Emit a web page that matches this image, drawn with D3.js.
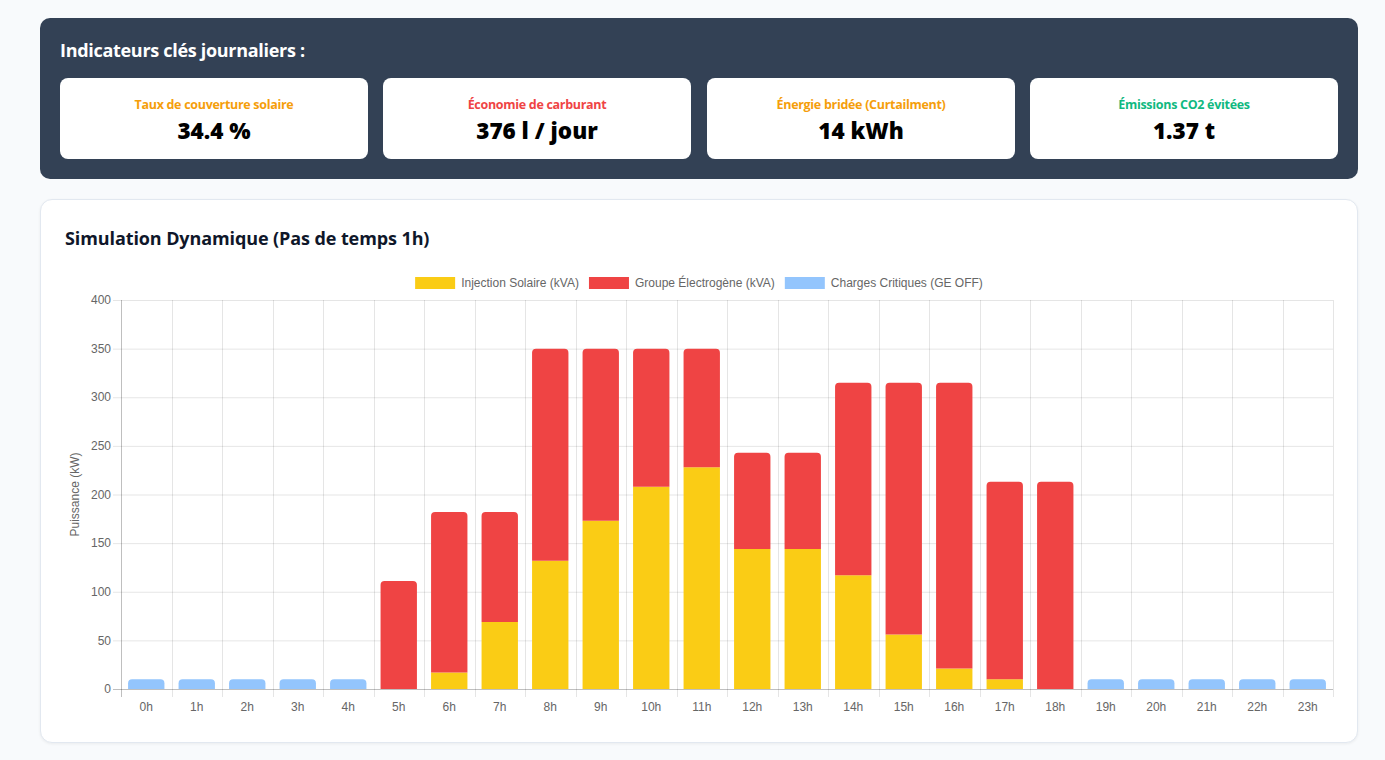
<!DOCTYPE html>
<html><head><meta charset="utf-8">
<script src="https://cdn.jsdelivr.net/npm/d3@7/dist/d3.min.js"></script>
<style>
body{margin:0;background:#f8fafc;font-family:'Open Sans','Noto Sans',sans-serif;width:1385px;height:760px;overflow:hidden;position:relative}
.top{position:absolute;left:40px;top:18px;width:1318px;height:161px;background:#334155;border-radius:10px}
.top h2{position:absolute;left:20px;top:20px;margin:0;color:#fff;font-size:18px;font-weight:700;letter-spacing:-0.3px}
.card{position:absolute;top:60px;width:308px;height:81px;background:#fff;border-radius:8px;text-align:center}
.card .l{position:absolute;left:0;right:0;top:18px;font-size:12.5px;font-weight:700;letter-spacing:-0.3px}
.card .v{position:absolute;left:0;right:0;top:37px;font-size:22.5px;font-weight:800;color:#000}
.chartcard{position:absolute;left:40px;top:199px;width:1316px;height:542px;background:#fff;border:1px solid #e2e8f0;border-radius:12px;box-shadow:0 1px 3px rgba(0,0,0,0.06)}
.chartcard h3{position:absolute;left:24px;top:26px;margin:0;font-size:18px;font-weight:700;color:#0f172a;letter-spacing:-0.1px}
svg{position:absolute;left:0;top:0}
</style></head>
<body>
<div class="top"><h2>Indicateurs clés journaliers :</h2><div id="kpis"></div></div>
<div class="chartcard"><h3>Simulation Dynamique (Pas de temps 1h)</h3></div>
<svg id="chart" width="1385" height="760"></svg>
<script>
const kpiLabels = ["Taux de couverture solaire","Économie de carburant","Énergie bridée (Curtailment)","Émissions CO2 évitées"];
const kpiValues = ["34.4 %","376 l / jour","14 kWh","1.37 t"];
const kpiColors = ["#f59e0b","#ef4444","#f59e0b","#10b981"];

const hours = ["0h","1h","2h","3h","4h","5h","6h","7h","8h","9h","10h","11h","12h","13h","14h","15h","16h","17h","18h","19h","20h","21h","22h","23h"];
const solar    = [0,0,0,0,0,0,17,69,132,173,208,228,144,144,117,56,21,10,0,0,0,0,0,0];
const genset   = [0,0,0,0,0,111,165,113,218,177,142,122,99,99,198,259,294,203,213,0,0,0,0,0];
const critical = [10,10,10,10,10,0,0,0,0,0,0,0,0,0,0,0,0,0,0,10,10,10,10,10];
const seriesNames = ["Injection Solaire (kVA)","Groupe Électrogène (kVA)","Charges Critiques (GE OFF)"];
const seriesColors = ["#facc15","#ef4444","#93c5fd"];
const yTicks = [0,50,100,150,200,250,300,350,400];

// KPI cards
const cardX = [20,343,667,990];
d3.select("#kpis").selectAll("div.card").data(kpiLabels).join("div")
  .attr("class","card").style("left",(d,i)=>cardX[i]+"px")
  .html((d,i)=>`<div class="l" style="color:${kpiColors[i]}">${d}</div><div class="v">${kpiValues[i]}</div>`);

const svg = d3.select("#chart");
const L=121,R=1333,T=300,B=689;
const x = d3.scaleBand().domain(hours).range([L,R]).paddingInner(0).paddingOuter(0);
const y = d3.scaleLinear().domain([0,400]).range([B,T]);
const grid="rgba(0,0,0,0.1)";
const font="'Liberation Sans',Arial,Helvetica,sans-serif";

// horizontal grid
const g = svg.append("g");
g.selectAll("line.h").data(yTicks).join("line")
  .attr("x1",L-8).attr("x2",R).attr("y1",d=>y(d)+0.5).attr("y2",d=>y(d)+0.5)
  .attr("stroke",d=>d===0?"rgba(0,0,0,0.25)":grid);
// vertical grid at band boundaries
const bounds = hours.map(h=>x(h)).concat([R]);
g.selectAll("line.v").data(bounds).join("line")
  .attr("x1",d=>Math.round(d)+0.5).attr("x2",d=>Math.round(d)+0.5).attr("y1",T).attr("y2",B+8)
  .attr("stroke",(d,i)=>i===0?"rgba(0,0,0,0.25)":grid);

// y tick labels
g.selectAll("text.yt").data(yTicks).join("text")
  .attr("x",L-10).attr("y",d=>y(d)).attr("dy","0.35em").attr("text-anchor","end")
  .attr("font-family",font).attr("font-size",12).attr("fill","#666").text(d=>d);
// x tick labels
g.selectAll("text.xt").data(hours).join("text")
  .attr("x",d=>x(d)+x.bandwidth()/2).attr("y",B+18).attr("dy","0.35em").attr("text-anchor","middle")
  .attr("font-family",font).attr("font-size",12).attr("fill","#666").text(d=>d);
// y axis title
g.append("text").attr("transform",`translate(79,${(T+B)/2}) rotate(-90)`).attr("text-anchor","middle")
  .attr("font-family",font).attr("font-size",12).attr("fill","#666").text("Puissance (kW)");

// stacked bars
const series=[solar,genset,critical];
const bw = x.bandwidth()*0.72;
function topRounded(x0,y0,w,h,r){
  r=Math.min(r,h,w/2);
  return `M${x0},${y0+h}V${y0+r}Q${x0},${y0} ${x0+r},${y0}H${x0+w-r}Q${x0+w},${y0} ${x0+w},${y0+r}V${y0+h}Z`;
}
const segs=[];
hours.forEach((h,i)=>{
  let base=0; let lastIdx=-1;
  series.forEach((s,k)=>{ if(s[i]>0) lastIdx=k; });
  series.forEach((s,k)=>{
    const v=s[i];
    if(v>0){ segs.push({h,k,y0:base,y1:base+v,top:k===lastIdx}); }
    base+=v;
  });
});
svg.append("g").selectAll("path").data(segs).join("path")
  .attr("fill",d=>seriesColors[d.k])
  .attr("d",d=>{
    const x0=x(d.h)+(x.bandwidth()-bw)/2, yt=y(d.y1), hh=y(d.y0)-y(d.y1);
    return d.top?topRounded(x0,yt,bw,hh,4):`M${x0},${yt}h${bw}v${hh}h${-bw}Z`;
  });

// legend
const leg = svg.append("g");
const items = leg.selectAll("g").data(seriesNames).join("g");
items.append("rect").attr("width",40).attr("height",12).attr("fill",(d,i)=>seriesColors[i]);
items.append("text").attr("x",46).attr("y",6).attr("dy","0.35em")
  .attr("font-family",font).attr("font-size",12).attr("fill","#666").text(d=>d);
let widths=[]; items.each(function(){widths.push(this.getBBox().width);});
const gap=10; const total=d3.sum(widths)+gap*(widths.length-1);
let cx = (40+1358)/2 - total/2;
items.attr("transform",(d,i)=>{const t=`translate(${cx},277)`; cx+=widths[i]+gap; return t;});
</script>
</body></html>
